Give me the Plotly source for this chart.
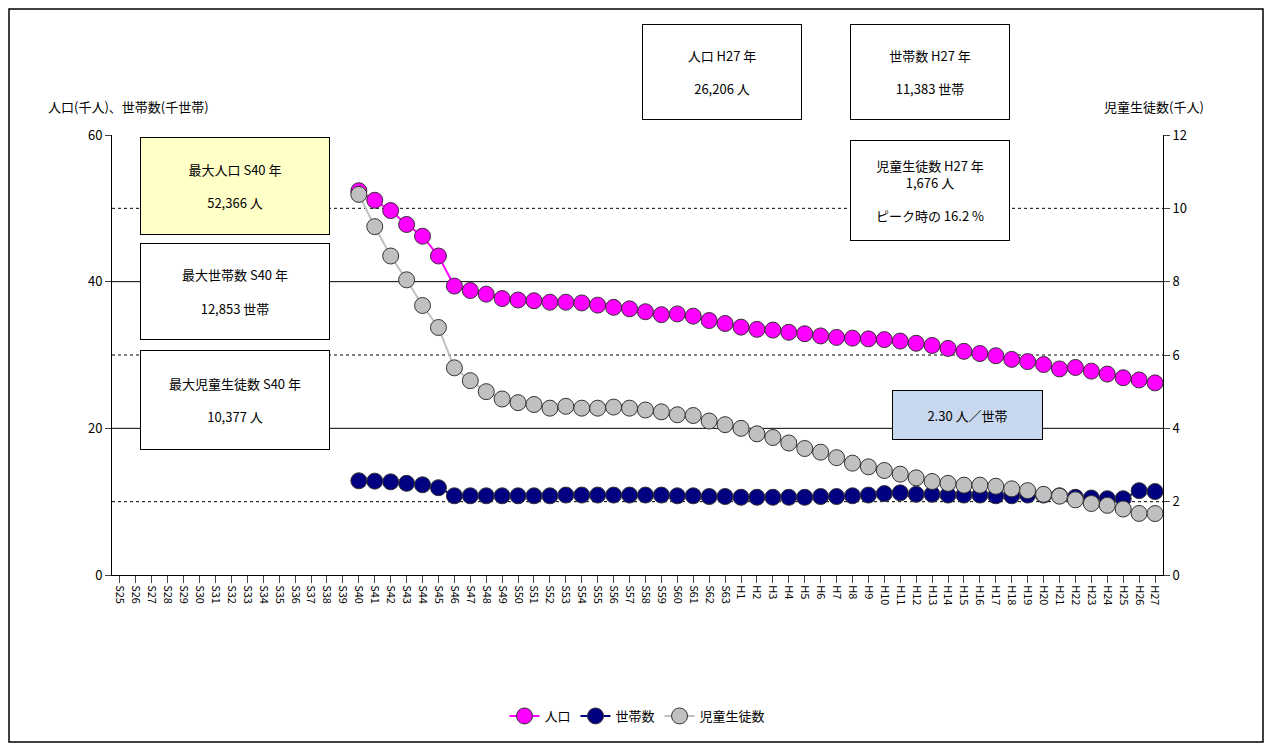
import plotly.graph_objects as go

cats = ["S%d" % i for i in range(25, 64)] + ["H%d" % i for i in range(1, 28)]

pop = [52.4, 51.1, 49.7, 47.8, 46.2, 43.5, 39.4, 38.8, 38.3, 37.7, 37.5, 37.4, 37.2, 37.2, 37.1,
       36.8, 36.5, 36.3, 35.9, 35.5, 35.6, 35.3, 34.7, 34.3, 33.8, 33.5, 33.4, 33.1, 32.9, 32.6,
       32.4, 32.3, 32.2, 32.1, 31.9, 31.6, 31.3, 30.9, 30.5, 30.2, 29.9, 29.4, 29.1, 28.7, 28.1,
       28.3, 27.8, 27.4, 26.9, 26.6, 26.2]
households = [12.85, 12.8, 12.7, 12.5, 12.3, 11.9, 10.8, 10.8, 10.8, 10.8, 10.8, 10.8, 10.8, 10.9, 10.9,
              10.9, 10.9, 10.9, 10.9, 10.9, 10.8, 10.8, 10.7, 10.7, 10.6, 10.6, 10.6, 10.6, 10.6, 10.7,
              10.7, 10.8, 10.9, 11.1, 11.2, 11.0, 11.0, 10.9, 10.9, 10.9, 10.8, 10.8, 10.9, 10.9, 10.8,
              10.6, 10.5, 10.4, 10.4, 11.5, 11.38]
students = [10.38, 9.5, 8.7, 8.05, 7.35, 6.75, 5.65, 5.3, 5.0, 4.8, 4.7, 4.65, 4.55, 4.6, 4.55,
            4.55, 4.58, 4.55, 4.5, 4.45, 4.37, 4.35, 4.2, 4.1, 4.0, 3.85, 3.75, 3.6, 3.45, 3.35,
            3.2, 3.05, 2.95, 2.85, 2.75, 2.65, 2.55, 2.5, 2.45, 2.45, 2.42, 2.35, 2.3, 2.2, 2.15,
            2.05, 1.95, 1.9, 1.8, 1.68, 1.676]
xs = cats[cats.index("S40"):]

font = "Noto Sans CJK JP"
# page pixel -> paper coordinates (plot area on page: x 112..1163, y 135..575)
PX0, PW, PY0, PH = 112, 1051, 575, 440
def px(x):
    return (x - PX0) / PW
def py(y):
    return (PY0 - y) / PH

fig = go.Figure()

def marks(color):
    return dict(size=16, color=color, line=dict(color="#333333", width=1))

fig.add_trace(go.Scatter(x=xs, y=pop, name="人口", mode="lines+markers",
                         line=dict(color="#ff00ff", width=2), marker=marks("#ff00ff")))
fig.add_trace(go.Scatter(x=xs, y=households, name="世帯数", mode="lines+markers",
                         line=dict(color="#000080", width=2), marker=marks("#000080")))
fig.add_trace(go.Scatter(x=xs, y=students, name="児童生徒数", mode="lines+markers", yaxis="y2",
                         line=dict(color="#c0c0c0", width=2), marker=marks("#c0c0c0")))

shapes = [dict(type="rect", xref="paper", yref="paper", x0=px(9), x1=px(1263), y0=py(742), y1=py(9),
               line=dict(color="black", width=1.5))]
for v in [10, 20, 30, 40, 50]:
    shapes.append(dict(type="line", xref="paper", yref="y", x0=0, x1=1, y0=v, y1=v,
                       line=dict(color="black", width=1, dash="solid" if v % 20 == 0 else "dot"),
                       layer="below"))

def box(x0, y0, x1, y1, text, bg="white"):
    return dict(xref="paper", yref="paper", x=px(x0), y=py(y0), xanchor="left", yanchor="top",
                text=text, showarrow=False, width=x1 - x0 - 4, height=y1 - y0 - 4,
                bgcolor=bg, bordercolor="black", borderwidth=1,
                font=dict(size=13, family=font, color="black"), align="center", valign="middle")

anns = [
    box(140, 137, 330, 235, "最大人口 S40 年<br><br>52,366 人", "#ffffc8"),
    box(140, 243, 330, 340, "最大世帯数 S40 年<br><br>12,853 世帯"),
    box(140, 350, 330, 450, "最大児童生徒数 S40 年<br><br>10,377 人"),
    box(642, 24, 802, 120, "人口 H27 年<br><br>26,206 人"),
    box(850, 24, 1010, 120, "世帯数 H27 年<br><br>11,383 世帯"),
    box(850, 140, 1010, 241, "児童生徒数 H27 年<br>1,676 人<br><br>ピーク時の 16.2 %"),
    box(892, 390, 1043, 440, "2.30 人／世帯", "#c8d8ee"),
    dict(xref="paper", yref="paper", x=px(46), y=py(95), text="人口(千人)、世帯数(千世帯)",
         showarrow=False, xanchor="left", font=dict(size=13, family=font, color="black")),
    dict(xref="paper", yref="paper", x=px(1206), y=py(95), text="児童生徒数(千人)",
         showarrow=False, xanchor="right", font=dict(size=13, family=font, color="black")),
]

fig.update_layout(
    width=1257, height=736, paper_bgcolor="white", plot_bgcolor="white",
    margin=dict(l=104, r=102, t=127, b=169),
    font=dict(family=font, size=12, color="black"),
    showlegend=True,
    legend=dict(orientation="h", x=0.5, xanchor="center", y=py(716), yanchor="middle",
                font=dict(size=13)),
    xaxis=dict(type="category", categoryorder="array", categoryarray=cats, tickvals=cats,
               range=[-0.5, len(cats) - 0.5], tickangle=90, ticks="outside", ticklen=7,
               showgrid=False, showline=True, linecolor="black", tickfont=dict(size=11)),
    yaxis=dict(range=[0, 60], tickvals=[0, 20, 40, 60], showgrid=False, showline=True,
               linecolor="black", ticks="outside", ticklen=6, zeroline=False, tickfont=dict(size=13)),
    yaxis2=dict(range=[0, 12], tickvals=[0, 2, 4, 6, 8, 10, 12], overlaying="y", side="right",
                showgrid=False, showline=True, linecolor="black", ticks="outside", ticklen=6,
                zeroline=False, tickfont=dict(size=13)),
    shapes=shapes, annotations=anns,
)
fig.write_html("out.html")
